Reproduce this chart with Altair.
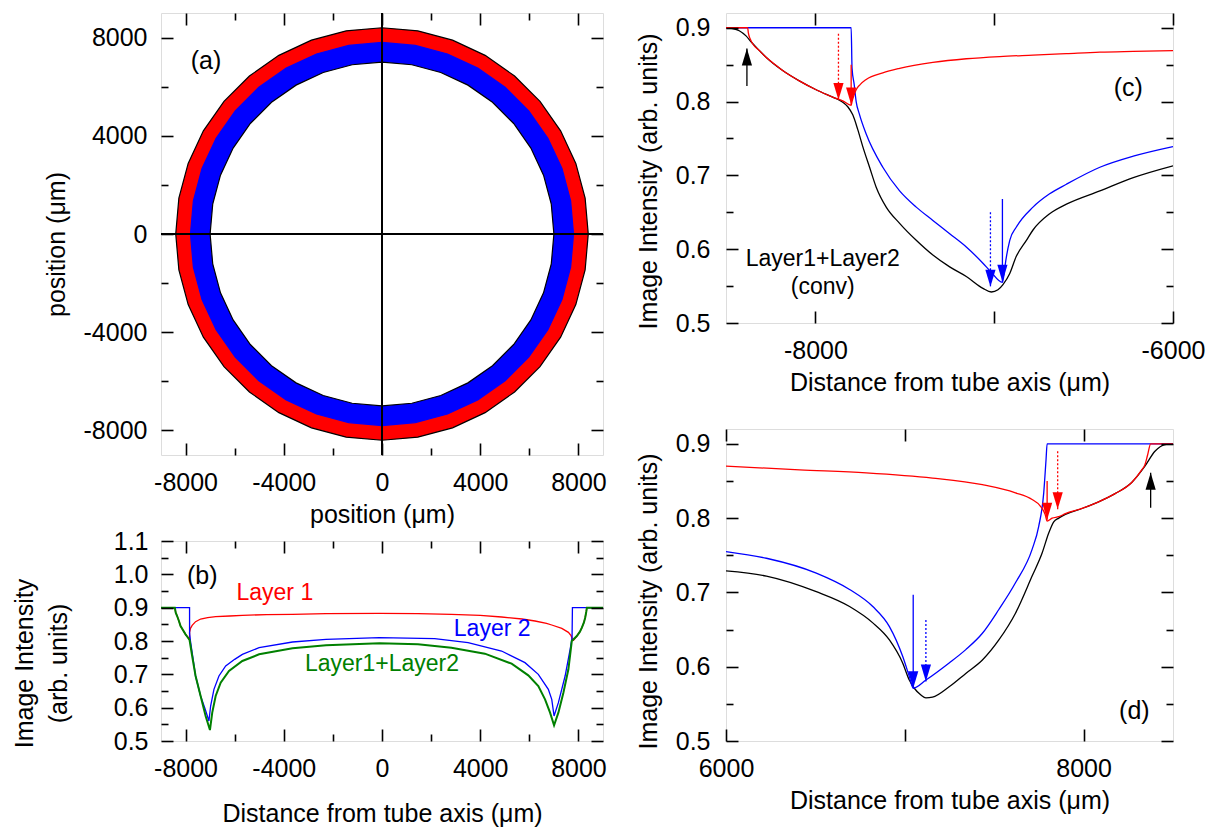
import numpy as np
import pandas as pd
import altair as alt

FONT = "Liberation Sans"
RED, BLUE, GREEN, BLACK, WHITE = "#ff0000", "#0000ff", "#008000", "#000000", "#ffffff"

# ---------------- panel (a): tube cross-section ----------------
ring_radius = [8400, 7800, 7000]          # outer edge of layer 1, layer1/layer2 boundary, inner edge of layer 2
ring_fill = [RED, BLUE, WHITE]
ring_edge = [BLACK, BLUE, BLACK]
ring_facets = 36
cross_at = [0]
a_text = ["(a)"]
a_text_x = [-7170]
a_text_y = [7050]

# ---------------- panel (b): profiles across the whole tube ----------------
b_red_x = [-9000, -8437, -8400, -8343, -8270, -8204, -8100, -8000, -7920, -7837, -7836, -7800, -7731, -7592,
           -7387, -7100, -6774, -6200, -5687, -4700, -3645, -2280, -102, 1463, 2827, 4000, 4870, 5700, 6231,
           6700, 6913, 7322, 7591, 7700, 7755, 7800, 7935, 8060, 8139, 8220, 8274, 8320, 8343, 9000]
b_red_y = [0.900, 0.900, 0.885, 0.875, 0.860, 0.845, 0.832, 0.820, 0.812, 0.803, 0.826, 0.838, 0.847, 0.858,
           0.866, 0.870, 0.873, 0.875, 0.877, 0.879, 0.880, 0.882, 0.883, 0.882, 0.880, 0.877, 0.872, 0.866, 0.860,
           0.853, 0.848, 0.838, 0.826, 0.816, 0.805, 0.802, 0.815, 0.828, 0.840, 0.855, 0.870, 0.888, 0.900, 0.900]

b_blue_x = [-9000, -7837, -7836, -7800, -7731, -7592, -7387, -7200, -7048, -6979, -6844, -6640, -6366, -6000,
            -5687, -5005, -3645, -2280, -102, 2145, 3506, 4870, 5822, 6366, 6774, 6913, 7007, 7183, 7457, 7661,
            7740, 7755, 9000]
b_blue_y = [0.900, 0.900, 0.822, 0.800, 0.765, 0.695, 0.635, 0.595, 0.560, 0.605, 0.655, 0.695, 0.725, 0.745,
            0.760, 0.780, 0.797, 0.805, 0.810, 0.807, 0.795, 0.770, 0.735, 0.700, 0.655, 0.625, 0.575, 0.615,
            0.695, 0.775, 0.810, 0.900, 0.900]

b_green_x = [-9000, -8437, -8400, -8343, -8270, -8204, -8100, -8000, -7920, -7837, -7731, -7592, -7387, -7183,
             -7007, -6913, -6774, -6570, -6231, -5687, -5005, -3645, -2280, -102, 1463, 2827, 4188, 5279, 5957,
             6366, 6639, 6844, 7007, 7183, 7387, 7591, 7730, 7800, 7935, 8060, 8139, 8220, 8274, 8320, 8343, 9000]
b_green_y = [0.900, 0.900, 0.885, 0.875, 0.860, 0.845, 0.832, 0.820, 0.812, 0.803, 0.755, 0.695, 0.635, 0.575,
             0.533, 0.585, 0.635, 0.675, 0.710, 0.740, 0.760, 0.778, 0.787, 0.793, 0.790, 0.780, 0.762, 0.732, 0.697,
             0.665, 0.625, 0.585, 0.547, 0.585, 0.645, 0.715, 0.800, 0.805, 0.815, 0.828, 0.840, 0.855, 0.870, 0.888,
             0.900, 0.900]

b_text = ["(b)", "Layer 1", "Layer 2", "Layer1+Layer2"]
b_text_x = [-7322, -4364, 4487, 0]
b_text_y = [0.995, 0.945, 0.835, 0.732]
b_text_color = [BLACK, RED, BLUE, GREEN]
b_text_size = [25, 23, 23, 23]

# ---------------- panel (c): left wall, zoomed ----------------
c_red_x = [-8500, -8379, -8375, -8365, -8350, -8313, -8276, -8230, -8183, -8090, -7996, -7903, -7847, -7800,
           -7795, -7785, -7772, -7750, -7716, -7623, -7529, -7343, -7156, -6969, -6783, -6596, -6409, -6222, -6000]
c_red_y = [0.900, 0.900, 0.893, 0.885, 0.878, 0.869, 0.860, 0.851, 0.842, 0.828, 0.816, 0.806, 0.801, 0.795,
           0.800, 0.808, 0.816, 0.823, 0.830, 0.839, 0.845, 0.853, 0.858, 0.861, 0.863, 0.865, 0.867, 0.868, 0.869]

c_blue_x = [-8500, -7800, -7795, -7783, -7772, -7754, -7716, -7623, -7529, -7436, -7343, -7249, -7156, -7063,
            -7021, -6954, -6945, -6940, -6913, -6876, -6783, -6690, -6596, -6409, -6222, -6000]
c_blue_y = [0.900, 0.900, 0.845, 0.823, 0.800, 0.783, 0.756, 0.711, 0.679, 0.657, 0.639, 0.621, 0.603, 0.581,
            0.570, 0.555, 0.566, 0.576, 0.612, 0.630, 0.657, 0.675, 0.688, 0.711, 0.726, 0.739]

c_black_x = [-8500, -8463, -8426, -8388, -8360, -8313, -8276, -8183, -8090, -7996, -7903, -7866, -7847, -7819,
             -7791, -7763, -7735, -7697, -7660, -7604, -7529, -7436, -7343, -7249, -7156, -7063, -7016, -6979,
             -6951, -6913, -6877, -6820, -6783, -6690, -6596, -6409, -6222, -6000]
c_black_y = [0.900, 0.899, 0.896, 0.889, 0.881, 0.869, 0.860, 0.842, 0.828, 0.816, 0.806, 0.802, 0.799, 0.793,
             0.782, 0.762, 0.739, 0.711, 0.684, 0.657, 0.635, 0.612, 0.592, 0.576, 0.563, 0.547, 0.542, 0.545,
             0.552, 0.567, 0.590, 0.612, 0.626, 0.648, 0.661, 0.679, 0.697, 0.713]

c_arrow_x = [-8383, -7871, -7800, -7021, -6954]
c_arrow_from = [0.821, 0.892, 0.850, 0.650, 0.668]
c_arrow_to = [0.872, 0.802, 0.796, 0.549, 0.556]
c_arrow_color = [BLACK, RED, RED, BLUE, BLUE]
c_arrow_style = ["solid", "dotted", "solid", "dotted", "solid"]

c_text = ["(c)", "Layer1+Layer2", "(conv)"]
c_text_x = [-6250, -7959, -7959]
c_text_y = [0.819, 0.587, 0.549]
c_text_size = [25, 23, 23]

# ---------------- panel (d): right wall, zoomed ----------------
d_red_x = [6000, 6412, 6784, 7155, 7434, 7619, 7712, 7759, 7785, 7796, 7824, 7861, 7898, 7991, 8084, 8176,
           8269, 8325, 8343, 8358, 8375, 8500]
d_red_y = [0.870, 0.865, 0.861, 0.854, 0.845, 0.834, 0.825, 0.816, 0.805, 0.796, 0.800, 0.802, 0.806, 0.813,
           0.822, 0.833, 0.848, 0.865, 0.872, 0.885, 0.900, 0.900]

d_blue_x = [6000, 6226, 6505, 6691, 6821, 6914, 6988, 7025, 7047, 7118, 7248, 7341, 7434, 7526, 7619, 7712,
            7749, 7777, 7790, 7796, 8500]
d_blue_y = [0.755, 0.746, 0.726, 0.704, 0.681, 0.654, 0.614, 0.587, 0.571, 0.582, 0.605, 0.623, 0.645, 0.677,
            0.713, 0.758, 0.789, 0.834, 0.879, 0.900, 0.900]

d_black_x = [6000, 6226, 6505, 6691, 6821, 6914, 6988, 7025, 7053, 7090, 7118, 7155, 7248, 7341, 7434, 7526,
             7619, 7712, 7768, 7805, 7833, 7861, 7898, 7991, 8084, 8176, 8269, 8343, 8399, 8455, 8500]
d_black_y = [0.729, 0.722, 0.701, 0.681, 0.659, 0.636, 0.605, 0.582, 0.571, 0.562, 0.558, 0.559, 0.573, 0.591,
             0.609, 0.636, 0.672, 0.722, 0.753, 0.780, 0.795, 0.800, 0.805, 0.813, 0.822, 0.833, 0.848, 0.870,
             0.890, 0.899, 0.900]

d_arrow_x = [7047, 7118, 7796, 7855, 8375]
d_arrow_from = [0.697, 0.663, 0.850, 0.890, 0.814]
d_arrow_to = [0.571, 0.580, 0.798, 0.812, 0.861]
d_arrow_color = [BLUE, BLUE, RED, RED, BLACK]
d_arrow_style = ["solid", "dotted", "solid", "dotted", "solid"]

d_text = ["(d)"]
d_text_x = [8284]
d_text_y = [0.540]
d_text_size = [25]

# ---------------- axes: domains, ticks, labels ----------------
pos_domain = [-9000, 9000]
pos_major = [-8000, -4000, 0, 4000, 8000]
pos_minor = [-6000, -2000, 2000, 6000]
b_y_domain = [0.5, 1.1]
b_y_major = [0.5, 0.6, 0.7, 0.8, 0.9, 1.0, 1.1]
b_y_minor = [0.55, 0.65, 0.75, 0.85, 0.95, 1.05]
cd_y_domain = [0.5, 0.92]
cd_y_major = [0.5, 0.6, 0.7, 0.8, 0.9]
cd_y_minor = [0.55, 0.65, 0.75, 0.85]
c_x_domain = [-8500, -6000]
c_x_major = [-8000, -7000, -6000]
c_x_labeled = [-8000, -6000]
d_x_domain = [6000, 8500]
d_x_major = [6000, 7000, 8000]
d_x_labeled = [6000, 8000]

MAJOR, MINOR = 12, 7
FS = 25
TITLE_POS = "position (\u03bcm)"
TITLE_DIST = "Distance from tube axis (\u03bcm)"
TITLE_INT = "Image Intensity (arb. units)"


def make_axis(orient, values, length, label_expr=None, title=None, label_pad=14, title_pad=10,
              line_h=None, title_y=None):
    kw = dict(orient=orient, values=values, offset=-length, tickSize=length, tickWidth=1.6,
              tickColor=BLACK, domain=False, grid=False, zindex=1, labelFlush=False,
              labelOverlap=False, labelFont=FONT, labelFontSize=FS, labelColor=BLACK,
              titleFont=FONT, titleFontSize=FS, titleFontWeight="normal", titleColor=BLACK,
              labelPadding=label_pad, titlePadding=title_pad, title=title)
    if label_expr is None:
        kw["labels"] = False
    else:
        kw["labelExpr"] = label_expr
    if line_h is not None:
        kw["titleLineHeight"] = line_h
    if title_y is not None:
        kw["titleY"] = title_y
    return alt.Axis(**kw)


def frame_layers(xdom, ydom, xscale, yscale, xmaj, xmin, ymaj, ymin, x_expr, y_expr,
                 xtitle, ytitle, xlp, xtp, ylp, ytp, y_lh=None, y_title_y=None):
    corner = pd.DataFrame({"x": xdom, "y": ydom})
    specs = [
        (make_axis("bottom", xmaj, MAJOR, x_expr, xtitle, xlp, xtp),
         make_axis("left", ymaj, MAJOR, y_expr, ytitle, ylp, ytp, y_lh, y_title_y)),
        (make_axis("top", xmaj, MAJOR), make_axis("right", ymaj, MAJOR)),
        (make_axis("bottom", xmin, MINOR) if xmin else None, make_axis("left", ymin, MINOR) if ymin else None),
        (make_axis("top", xmin, MINOR) if xmin else None, make_axis("right", ymin, MINOR) if ymin else None),
    ]
    out = []
    for xa, ya in specs:
        out.append(
            alt.Chart(corner).mark_point(opacity=0, size=1, clip=True).encode(
                x=alt.X("x:Q", scale=xscale, axis=xa),
                y=alt.Y("y:Q", scale=yscale, axis=ya),
            )
        )
    return out


def line(xs, ys, color, xscale, yscale, width=1.3, interp="linear"):
    df = pd.DataFrame({"x": xs, "y": ys, "i": list(range(len(xs)))})
    return alt.Chart(df).mark_line(color=color, strokeWidth=width, clip=True, interpolate=interp).encode(
        x=alt.X("x:Q", scale=xscale, axis=None),
        y=alt.Y("y:Q", scale=yscale, axis=None),
        order="i:Q",
    )


def texts(labels, xs, ys, colors, sizes, xscale, yscale):
    out = []
    for t, x, y, c, s in zip(labels, xs, ys, colors, sizes):
        df = pd.DataFrame({"x": [x], "y": [y], "t": [t]})
        out.append(alt.Chart(df).mark_text(font=FONT, fontSize=s, color=c, align="center",
                                           baseline="middle").encode(
            x=alt.X("x:Q", scale=xscale, axis=None),
            y=alt.Y("y:Q", scale=yscale, axis=None),
            text="t:N"))
    return out


def arrows(xs, y0, y1, colors, styles, xscale, yscale):
    df = pd.DataFrame({"x": xs, "y0": y0, "y1": y1, "c": colors, "s": styles})
    df["up"] = df["y1"] > df["y0"]
    shaft = alt.Chart(df).mark_rule(strokeWidth=1.3).encode(
        x=alt.X("x:Q", scale=xscale, axis=None),
        y=alt.Y("y0:Q", scale=yscale, axis=None),
        y2="y1:Q",
        color=alt.Color("c:N", scale=None),
        strokeDash=alt.StrokeDash("s:N", scale=alt.Scale(domain=["solid", "dotted"], range=[[1, 0], [2, 2]]),
                                  legend=None),
    )
    heads = []
    for up, path in [(False, "M0,0L-0.3,-1L0.3,-1Z"), (True, "M0,0L-0.3,1L0.3,1Z")]:
        sub = df[df["up"] == up]
        if len(sub):
            heads.append(alt.Chart(sub).mark_point(shape=path, filled=True, opacity=1, size=1156,
                                                   strokeWidth=0).encode(
                x=alt.X("x:Q", scale=xscale, axis=None),
                y=alt.Y("y1:Q", scale=yscale, axis=None),
                color=alt.Color("c:N", scale=None)))
    return [shaft] + heads


def lbl_expr(labeled, fmt):
    return "indexof([%s], datum.value) >= 0 ? %s : ''" % (",".join(str(v) for v in labeled), fmt)


INT_EXPR = "'' + datum.value"
DEC_EXPR = "format(datum.value, '.1f')"

# ---------------- build panel (a) ----------------
ax = alt.Scale(domain=pos_domain, nice=False, zero=False)
ay = alt.Scale(domain=pos_domain, nice=False, zero=False)
a_layers = []
for r, f, e in zip(ring_radius, ring_fill, ring_edge):
    k = np.arange(ring_facets + 1)
    ang = np.deg2rad(90 + 360.0 * k / ring_facets)
    df = pd.DataFrame({"x": r * np.cos(ang), "y": r * np.sin(ang), "k": k})
    a_layers.append(alt.Chart(df).mark_line(fill=f, stroke=e, strokeWidth=1.2, clip=True).encode(
        x=alt.X("x:Q", scale=ax, axis=None), y=alt.Y("y:Q", scale=ay, axis=None), order="k:Q"))
cross = pd.DataFrame({"v": cross_at})
a_layers.append(alt.Chart(cross).mark_rule(color=BLACK, strokeWidth=2).encode(
    x=alt.X("v:Q", scale=ax, axis=None)))
a_layers.append(alt.Chart(cross).mark_rule(color=BLACK, strokeWidth=2).encode(
    y=alt.Y("v:Q", scale=ay, axis=None)))
a_layers += texts(a_text, a_text_x, a_text_y, [BLACK], [FS], ax, ay)
a_layers += frame_layers(pos_domain, pos_domain, ax, ay, pos_major, pos_minor, pos_major, pos_minor,
                         INT_EXPR, INT_EXPR, TITLE_POS, TITLE_POS, 15, 7, 14, 14, None, 231)
panel_a = alt.layer(*a_layers).resolve_axis(x="independent", y="independent").properties(width=442, height=442)

# ---------------- build panel (b) ----------------
bx = alt.Scale(domain=pos_domain, nice=False, zero=False)
by = alt.Scale(domain=b_y_domain, nice=False, zero=False)
b_layers = [line(b_red_x, b_red_y, RED, bx, by, 1.3),
            line(b_blue_x, b_blue_y, BLUE, bx, by, 1.3),
            line(b_green_x, b_green_y, GREEN, bx, by, 2.0)]
b_layers += texts(b_text, b_text_x, b_text_y, b_text_color, b_text_size, bx, by)
b_layers += frame_layers(pos_domain, b_y_domain, bx, by, pos_major, pos_minor, b_y_major, b_y_minor,
                         INT_EXPR, DEC_EXPR, TITLE_DIST, ["Image Intensity", "(arb. units)"],
                         15, 20, 13, 42, 34, 122)
panel_b = alt.layer(*b_layers).resolve_axis(x="independent", y="independent").properties(width=442, height=200)

# ---------------- build panel (c) ----------------
cx = alt.Scale(domain=c_x_domain, nice=False, zero=False)
cy = alt.Scale(domain=cd_y_domain, nice=False, zero=False)
c_layers = [line(c_black_x, c_black_y, BLACK, cx, cy, 1.3, "monotone"),
            line(c_blue_x, c_blue_y, BLUE, cx, cy, 1.3, "monotone"),
            line(c_red_x, c_red_y, RED, cx, cy, 1.3, "monotone")]
c_layers += arrows(c_arrow_x, c_arrow_from, c_arrow_to, c_arrow_color, c_arrow_style, cx, cy)
c_layers += texts(c_text, c_text_x, c_text_y, [BLACK] * 3, c_text_size, cx, cy)
c_layers += frame_layers(c_x_domain, cd_y_domain, cx, cy, c_x_major, [], cd_y_major, cd_y_minor,
                         lbl_expr(c_x_labeled, INT_EXPR), DEC_EXPR, TITLE_DIST, TITLE_INT, 15, 7, 16, 14,
                         None, 168)
panel_c = alt.layer(*c_layers).resolve_axis(x="independent", y="independent").properties(width=447, height=310)

# ---------------- build panel (d) ----------------
dx = alt.Scale(domain=d_x_domain, nice=False, zero=False)
dy = alt.Scale(domain=cd_y_domain, nice=False, zero=False)
d_layers = [line(d_black_x, d_black_y, BLACK, dx, dy, 1.3, "monotone"),
            line(d_blue_x, d_blue_y, BLUE, dx, dy, 1.3, "monotone"),
            line(d_red_x, d_red_y, RED, dx, dy, 1.3, "monotone")]
d_layers += arrows(d_arrow_x, d_arrow_from, d_arrow_to, d_arrow_color, d_arrow_style, dx, dy)
d_layers += texts(d_text, d_text_x, d_text_y, [BLACK], d_text_size, dx, dy)
d_layers += frame_layers(d_x_domain, cd_y_domain, dx, dy, d_x_major, [], cd_y_major, cd_y_minor,
                         lbl_expr(d_x_labeled, INT_EXPR), DEC_EXPR, TITLE_DIST, TITLE_INT, 15, 7, 16, 14,
                         None, 172)
panel_d = alt.layer(*d_layers).resolve_axis(x="independent", y="independent").properties(width=447, height=312)

left = alt.vconcat(panel_a, panel_b, spacing=86, bounds="flush")
right = alt.vconcat(panel_c, panel_d, spacing=106, bounds="flush")
chart = alt.hconcat(left, right, spacing=28, bounds="full").properties(
    padding={"left": 11, "top": 11, "right": 5, "bottom": 5}, background=WHITE
).configure_view(stroke=BLACK, strokeWidth=2.2).configure(font=FONT)

chart.save("out.html", embed_options={"renderer": "svg", "actions": False})
